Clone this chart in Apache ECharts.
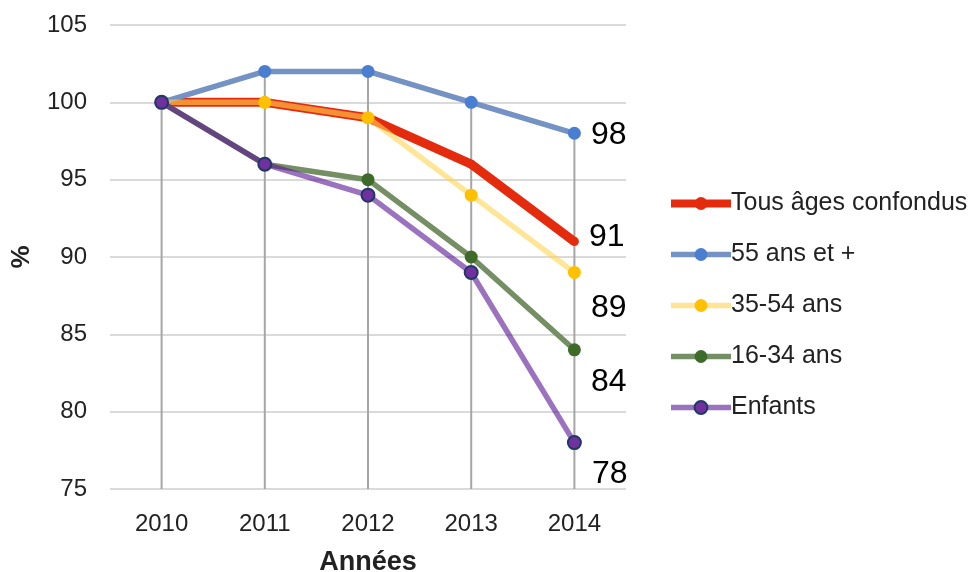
<!DOCTYPE html>
<html>
<head>
<meta charset="utf-8">
<script src="https://cdn.jsdelivr.net/npm/echarts@6/dist/echarts.min.js"></script>
<style>
html,body{margin:0;padding:0;background:#fff;}
#chart{width:973px;height:572px;}
</style>
</head>
<body>
<div id="chart"></div>
<script>
const years = ['2010', '2011', '2012', '2013', '2014'];
const tousAges = [100, 100, 99, 96, 91];
const ans55plus = [100, 102, 102, 100, 98];
const ans35_54 = [100, 100, 99, 94, 89];
const ans16_34 = [100, 96, 95, 90, 84];
const enfants = [100, 96, 94, 89, 78];
const seriesNames = ['Tous âges confondus', '55 ans et +', '35-54 ans', '16-34 ans', 'Enfants'];
const yTicks = [75, 80, 85, 90, 95, 100, 105];

const FONT = '"Liberation Sans", Arial, Helvetica, sans-serif';
const allSeries = [tousAges, ans55plus, ans35_54, ans16_34, enfants];
const dropMax = years.map((_, i) => Math.max(...allSeries.map(s => s[i])));

const styles = [
  { line: '#e52b0e', legendLine: '#e52b0e', width: 9, lw: 8, marker: '#e52b0e', border: '#e52b0e', size: 9, off: [5, -4] },
  { line: '#7592c4', legendLine: '#7592c4', width: 5.5, lw: 5.5, marker: '#4a7ed0', border: '#4a7ed0', size: 13, off: [5, 2] },
  { line: 'rgba(255,213,80,0.6)', legendLine: '#ffe496', width: 5.5, lw: 5.5, marker: '#ffc000', border: '#ffc000', size: 13, off: [5, 36] },
  { line: '#748f63', legendLine: '#748f63', width: 5.5, lw: 5.5, marker: '#3e6b2a', border: '#3e6b2a', size: 13, off: [5, 32] },
  { line: 'rgba(88,20,150,0.6)', legendLine: '#9b72c0', width: 5.5, lw: 5.5, marker: '#7030a0', border: '#1f3864', size: 13, off: [5, 32] }
];

const lineSeries = allSeries.map((data, k) => ({
  name: seriesNames[k],
  type: 'line',
  z: 3,
  data: data.map((v, i) => i === data.length - 1 ? {
    value: v,
    label: {
      show: true, position: 'right', offset: styles[k].off,
      formatter: '{c}', fontSize: 32, color: '#000', fontFamily: FONT
    }
  } : v),
  symbol: 'circle',
  symbolSize: styles[k].size,
  lineStyle: { color: styles[k].line, width: styles[k].width },
  itemStyle: { color: styles[k].marker, borderColor: styles[k].border, borderWidth: k === 4 ? 2 : 0 },
  emphasis: { disabled: true },
  animation: false
}));

const legendData = seriesNames.map((n, k) => ({
  name: n,
  lineStyle: { color: styles[k].legendLine, width: styles[k].lw },
  itemStyle: { color: styles[k].marker, borderColor: styles[k].border, borderWidth: k === 4 ? 2 : 0 }
}));

const chart = echarts.init(document.getElementById('chart'));
chart.setOption({
  animation: false,
  backgroundColor: '#fff',
  grid: { left: 110, right: 347, top: 25, bottom: 83, outerBoundsMode: 'none', containLabel: false },
  legend: {
    data: legendData,
    orient: 'vertical',
    left: 662,
    top: 186,
    itemWidth: 60,
    itemHeight: 16,
    itemGap: 26,
    textStyle: { fontSize: 25, color: '#222', fontFamily: FONT, padding: [0, 0, 0, -5] }
  },
  xAxis: {
    type: 'category',
    data: years,
    boundaryGap: true,
    axisLine: { show: false },
    axisTick: { show: false },
    axisLabel: { fontSize: 24, color: '#222', fontFamily: FONT, margin: 23 },
    name: 'Années',
    nameLocation: 'middle',
    nameGap: 60,
    nameTextStyle: { fontSize: 27, fontWeight: 'bold', color: '#222', fontFamily: FONT }
  },
  yAxis: {
    type: 'value',
    min: yTicks[0],
    max: yTicks[yTicks.length - 1],
    interval: 5,
    axisLine: { show: false },
    axisTick: { show: false },
    splitLine: { lineStyle: { color: '#dadada', width: 2 } },
    axisLabel: { fontSize: 24, color: '#222', fontFamily: FONT, margin: 23 },
    name: '%',
    nameLocation: 'middle',
    nameGap: 75,
    nameTextStyle: { fontSize: 26, fontWeight: 'bold', color: '#222', fontFamily: FONT }
  },
  series: [{
    type: 'bar',
    name: 'drop',
    data: dropMax,
    barWidth: 2,
    z: 1,
    itemStyle: { color: '#a6a6a6' },
    emphasis: { disabled: true },
    animation: false
  }].concat(lineSeries)
});
</script>
</body>
</html>
